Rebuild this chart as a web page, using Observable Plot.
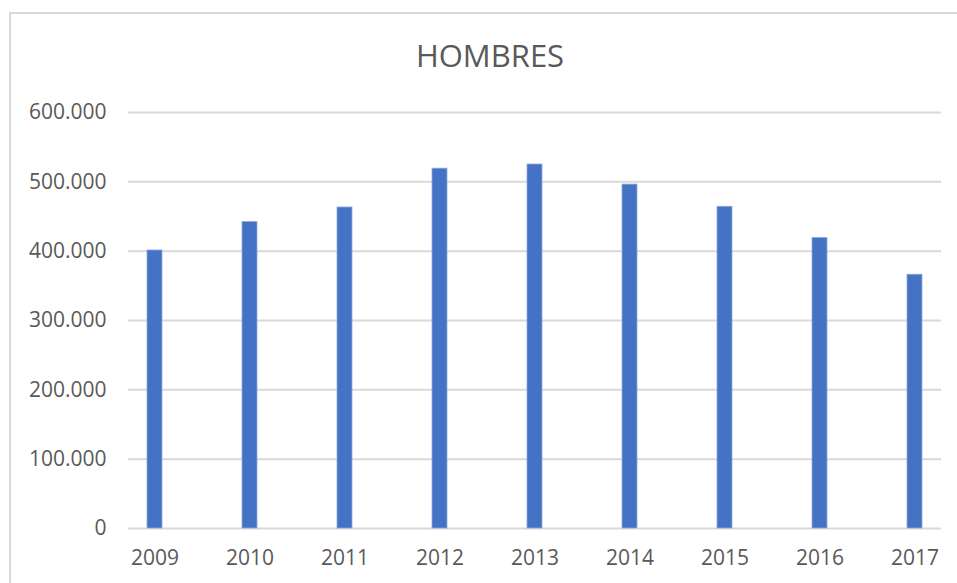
<!DOCTYPE html>
<html>
<head>
<meta charset="utf-8">
<script src="https://cdn.jsdelivr.net/npm/d3@7"></script>
<script src="https://cdn.jsdelivr.net/npm/@observablehq/plot@0.6"></script>
<style>
  html, body { margin: 0; padding: 0; background: #fff; }
  #wrap { position: relative; width: 957px; height: 583px; overflow: hidden; background: #fff; font-family: "Open Sans", sans-serif; }
  #frame { position: absolute; left: 9px; top: 12px; width: 1000px; height: 700px; border: 2px solid #d9d9d9; box-sizing: border-box; }
  #title { position: absolute; left: 0; width: 980px; top: 34px; text-align: center; font-size: 31px; line-height: 1.362; color: #595959; white-space: nowrap; }
  #chart { position: absolute; left: 0; top: 0; }
</style>
</head>
<body>
<div id="wrap">
  <div id="frame"></div>
  <div id="chart"></div>
  <div id="title">HOMBRES</div>
</div>
<script>
const title = "HOMBRES";
const years = ["2009", "2010", "2011", "2012", "2013", "2014", "2015", "2016", "2017"];
const hombres = [401000, 442000, 463000, 519000, 525000, 496000, 464000, 419000, 366000];
const yTicks = [0, 100000, 200000, 300000, 400000, 500000, 600000];

const data = years.map((y, i) => ({year: y, value: hombres[i]}));
const fmt = d3.formatLocale({decimal: ",", thousands: ".", grouping: [3], currency: ["", "€"]}).format(",d");

document.getElementById("title").textContent = title;

const chart = Plot.plot({
  width: 957,
  height: 583,
  marginTop: 112,
  marginBottom: 55,
  marginLeft: 128,
  marginRight: 16,
  style: {fontFamily: "'Open Sans', sans-serif", fontSize: "21px", color: "#595959", background: "transparent", overflow: "visible"},
  x: {type: "band", domain: years, range: [103.8, 966], paddingInner: 0.843, paddingOuter: 0.4215, label: null},
  y: {domain: [0, 600000], label: null},
  marks: [
    Plot.ruleY(yTicks, {stroke: "#d9d9d9", strokeWidth: 2}),
    Plot.barY(data, {x: "year", y: "value", fill: "#4472C4", stroke: "#8faadc", strokeWidth: 0.8}),
    Plot.axisY({ticks: yTicks, tickFormat: fmt, tickSize: 0, tickPadding: 22, label: null, fontSize: 21}),
    Plot.axisX({tickSize: 0, tickPadding: 22, label: null, fontSize: 21})
  ]
});
document.getElementById("chart").appendChild(chart);
</script>
</body>
</html>
